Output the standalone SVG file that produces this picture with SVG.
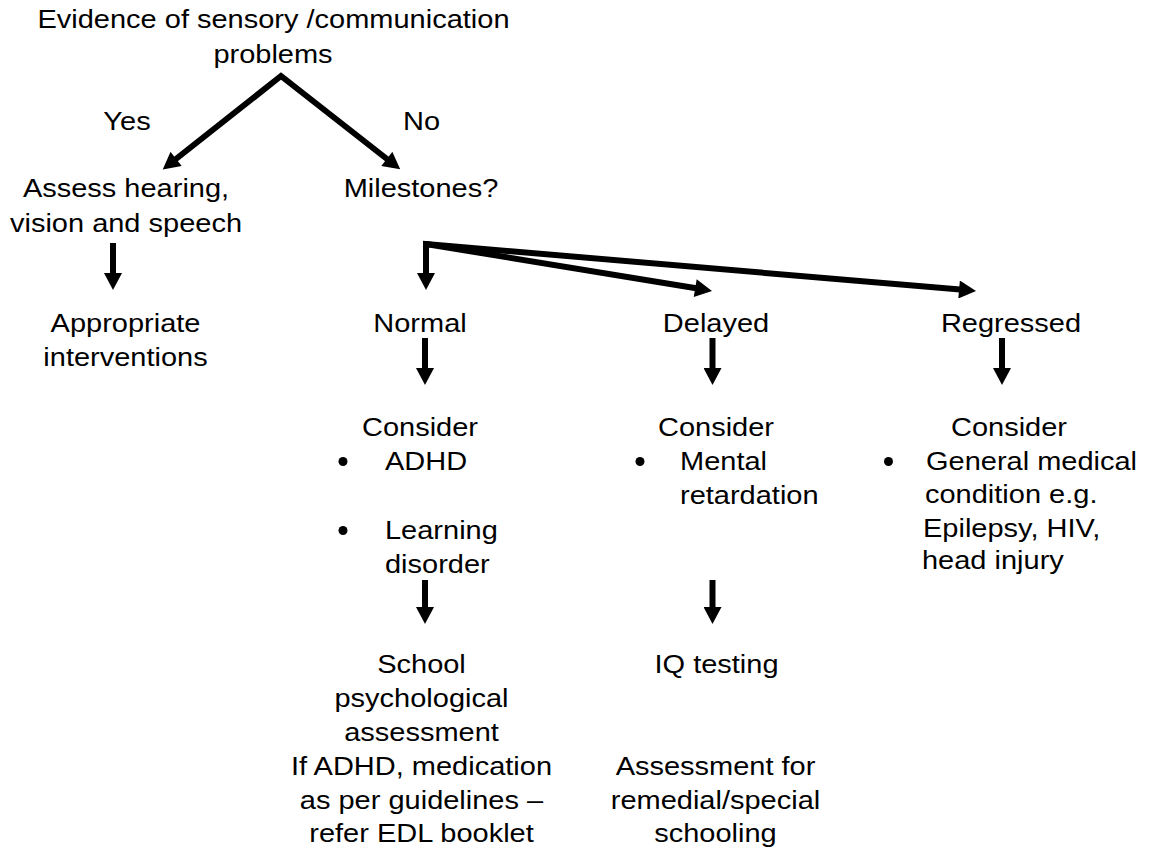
<svg xmlns="http://www.w3.org/2000/svg" width="1151" height="850" viewBox="0 0 1151 850">
<style>
.t{font-family:"Liberation Sans",Arial,Helvetica,sans-serif;font-size:25.5px;fill:#000;}
.c{text-anchor:middle;}
.s{text-anchor:start;}
.ln{fill:none;stroke:#000;stroke-width:6;stroke-linejoin:miter;stroke-miterlimit:10;marker-end:url(#ah);}
.bul{fill:#000;}
</style>
<defs>
<marker id="ah" markerUnits="userSpaceOnUse" markerWidth="18" markerHeight="18" viewBox="0 0 17 18" refX="1" refY="9" orient="auto-start-reverse">
<path d="M0,0 L17,9 L0,18 Z" fill="#000"/>
</marker>
</defs>
<rect x="0" y="0" width="1151" height="850" fill="#fff"/>

<g id="connectors">
<path class="ln" style="marker-start:url(#ah)" d="M175.3,159.5 L281,76 L387.6,159.5"/>
<path class="ln" d="M113,243 V274"/>
<path class="ln" style="marker-start:url(#ah)" d="M426,274 V244 L960.1,289.6"/>
<path class="ln" d="M426,244 L696.2,288.3"/>
<path class="ln" d="M425,338 V369"/>
<path class="ln" d="M712.5,338 V369"/>
<path class="ln" d="M1002,338 V369"/>
<path class="ln" d="M425,580 V608"/>
<path class="ln" d="M712.5,580 V608"/>
</g>

<g id="edge-labels">
<text class="t c" transform="translate(127,130) scale(1.137,1)">Yes</text>
<text class="t c" transform="translate(421.5,130) scale(1.137,1)">No</text>
</g>

<g id="n-evidence">
<text class="t c" transform="translate(273.5,28.3) scale(1.137,1)">Evidence of sensory /communication</text>
<text class="t c" transform="translate(273,62.7) scale(1.137,1)">problems</text>
</g>

<g id="n-assess">
<text class="t c" transform="translate(126,197.3) scale(1.137,1)">Assess hearing,</text>
<text class="t c" transform="translate(126,231.7) scale(1.137,1)">vision and speech</text>
</g>

<g id="n-milestones">
<text class="t c" transform="translate(421,197.3) scale(1.137,1)">Milestones?</text>
</g>

<g id="n-appropriate">
<text class="t c" transform="translate(125.5,332) scale(1.137,1)">Appropriate</text>
<text class="t c" transform="translate(125.5,366) scale(1.137,1)">interventions</text>
</g>

<g id="n-normal">
<text class="t c" transform="translate(420,332) scale(1.137,1)">Normal</text>
</g>
<g id="n-delayed">
<text class="t c" transform="translate(716,332) scale(1.137,1)">Delayed</text>
</g>
<g id="n-regressed">
<text class="t c" transform="translate(1011,332) scale(1.137,1)">Regressed</text>
</g>

<g id="n-consider-normal">
<text class="t c" transform="translate(420,435.5) scale(1.137,1)">Consider</text>
<circle class="bul" cx="343" cy="461.5" r="4.5"/>
<text class="t s" transform="translate(385,470) scale(1.137,1)">ADHD</text>
<circle class="bul" cx="343" cy="530.5" r="4.5"/>
<text class="t s" transform="translate(385,539) scale(1.137,1)">Learning</text>
<text class="t s" transform="translate(385,573) scale(1.137,1)">disorder</text>
</g>

<g id="n-consider-delayed">
<text class="t c" transform="translate(716,435.5) scale(1.137,1)">Consider</text>
<circle class="bul" cx="640" cy="461.5" r="4.5"/>
<text class="t s" transform="translate(680,470) scale(1.137,1)">Mental</text>
<text class="t s" transform="translate(680,504) scale(1.137,1)">retardation</text>
</g>

<g id="n-consider-regressed">
<text class="t c" transform="translate(1009,435.5) scale(1.137,1)">Consider</text>
<circle class="bul" cx="888.5" cy="461.5" r="4.5"/>
<text class="t s" transform="translate(926,470) scale(1.137,1)">General medical</text>
<text class="t s" transform="translate(925,503) scale(1.137,1)">condition e.g.</text>
<text class="t s" transform="translate(923,536.5) scale(1.137,1)">Epilepsy, HIV,</text>
<text class="t s" transform="translate(922,569) scale(1.137,1)">head injury</text>
</g>

<g id="n-school">
<text class="t c" transform="translate(421.5,673) scale(1.137,1)">School</text>
<text class="t c" transform="translate(421.5,707) scale(1.137,1)">psychological</text>
<text class="t c" transform="translate(421.5,741) scale(1.137,1)">assessment</text>
<text class="t c" transform="translate(421.5,775) scale(1.137,1)">If ADHD, medication</text>
<text class="t c" transform="translate(421.5,808.5) scale(1.137,1)">as per guidelines –</text>
<text class="t c" transform="translate(421.5,842) scale(1.137,1)">refer EDL booklet</text>
</g>

<g id="n-iq">
<text class="t c" transform="translate(716.5,673) scale(1.137,1)">IQ testing</text>
</g>

<g id="n-special">
<text class="t c" transform="translate(715.5,775) scale(1.137,1)">Assessment for</text>
<text class="t c" transform="translate(715.5,808.5) scale(1.137,1)">remedial/special</text>
<text class="t c" transform="translate(715.5,842) scale(1.137,1)">schooling</text>
</g>
</svg>
